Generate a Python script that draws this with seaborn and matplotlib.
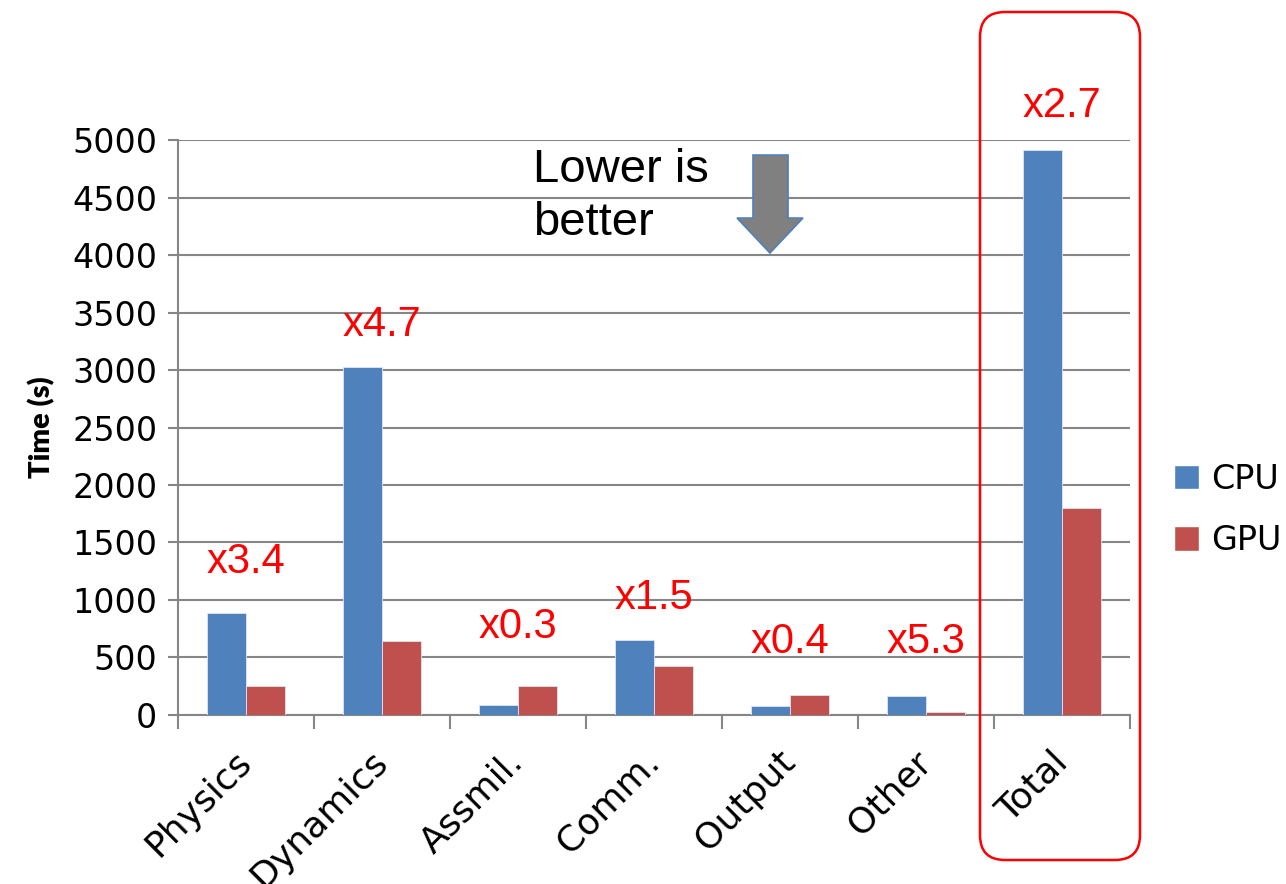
import pandas as pd
import matplotlib.pyplot as plt
import seaborn as sns
from matplotlib.patches import Patch, Polygon, FancyBboxPatch
from matplotlib.ticker import FixedLocator

# --- DATA ---
categories = ["Physics", "Dynamics", "Assmil.", "Comm.", "Output", "Other", "Total"]
cpu_time = [885, 3025, 85, 655, 75, 165, 4910]
gpu_time = [250, 640, 250, 425, 175, 30, 1800]
speedups = ["x3.4", "x4.7", "x0.3", "x1.5", "x0.4", "x5.3", "x2.7"]
speedup_y = [1330, 3390, 765, 1020, 635, 635, 5300]   # label heights (s)

CPU_COLOR = "#4F81BD"
GPU_COLOR = "#C0504D"
GRID = "#868686"

df = pd.DataFrame({
    "Category": categories * 2,
    "Processor": ["CPU"] * len(categories) + ["GPU"] * len(categories),
    "Time": cpu_time + gpu_time,
})

sns.set_theme(style="white")
plt.rcParams["font.family"] = ["DejaVu Sans"]
plt.rcParams["text.color"] = "black"
plt.rcParams["xtick.color"] = "black"
plt.rcParams["ytick.color"] = "black"
plt.rcParams["axes.labelcolor"] = "black"

fig = plt.figure(figsize=(12.86, 8.84), dpi=100)
ax = fig.add_axes([0.1384, 0.1912, 0.7403, 0.6504])

sns.barplot(data=df, x="Category", y="Time", hue="Processor",
            palette={"CPU": CPU_COLOR, "GPU": GPU_COLOR}, saturation=1,
            width=0.574, gap=0, errorbar=None, legend=False,
            edgecolor="#dce6f2", linewidth=0.6, ax=ax, zorder=3)

ax.set_xlim(-0.5, len(categories) - 0.5)
ax.set_ylim(0, 5000)
ax.set_yticks(range(0, 5001, 500))
ax.yaxis.grid(True, color=GRID, linewidth=1.5, zorder=0)
ax.set_axisbelow(True)

for s in ["top", "right"]:
    ax.spines[s].set_visible(False)
for s in ["left", "bottom"]:
    ax.spines[s].set_color(GRID)
    ax.spines[s].set_linewidth(1.5)

# category labels without ticks, boundary ticks as minor ticks
ax.xaxis.set_minor_locator(FixedLocator([i - 0.5 for i in range(len(categories) + 1)]))
ax.tick_params(axis="x", which="major", length=0, pad=30)
ax.tick_params(axis="x", which="minor", length=10, width=1.5, color=GRID, direction="out", bottom=True)
ax.tick_params(axis="y", length=7, width=1.5, color=GRID, labelcolor="black",
               direction="out", left=True, pad=8, labelsize=24)
ax.set_xticks(range(len(categories)))
ax.set_xticklabels(categories, rotation=45, ha="right", va="center",
                   rotation_mode="anchor", fontsize=26, color="black")

ax.set_xlabel("")
ax.set_ylabel("Time (s)", fontsize=21, fontweight="heavy", family=["Lato", "DejaVu Sans"],
              labelpad=12, color="black")

# speedup annotations
for i, (lab, yv) in enumerate(zip(speedups, speedup_y)):
    ax.text(i, yv, lab, color="#FF0000", fontsize=30, ha="center", va="center",
            family=["Liberation Sans", "DejaVu Sans"], zorder=5)

ax.text(0.373, 0.902, "Lower is\nbetter", transform=ax.transAxes, fontsize=34,
        ha="left", va="center", linespacing=1.28, color="black",
        family=["Liberation Sans", "DejaVu Sans"], zorder=5)

# block arrow "lower is better"
arrow_pts = [(0.6040, 0.9739), (0.6408, 0.9739), (0.6408, 0.8643), (0.6565, 0.8643),
             (0.6218, 0.8035), (0.5872, 0.8643), (0.6040, 0.8643)]
ax.add_patch(Polygon(arrow_pts, closed=True, transform=ax.transAxes,
                     facecolor="#808080", edgecolor=CPU_COLOR, linewidth=1.2, zorder=6))

# red rounded box around Total
box = FancyBboxPatch((9.80, 0.24), 1.60, 8.48, boxstyle="round,pad=0,rounding_size=0.25",
                     transform=fig.dpi_scale_trans, facecolor="none",
                     edgecolor="#FF0000", linewidth=1.8, zorder=10)
fig.patches.append(box)

handles = [Patch(facecolor=CPU_COLOR, label="CPU"), Patch(facecolor=GPU_COLOR, label="GPU")]
fig.legend(handles=handles, loc="center left", bbox_to_anchor=(0.9, 0.423),
           frameon=False, fontsize=24, handlelength=0.75, handleheight=0.75,
           handletextpad=0.35, labelspacing=0.85, borderpad=0)

fig.savefig("out.png", dpi=100)
